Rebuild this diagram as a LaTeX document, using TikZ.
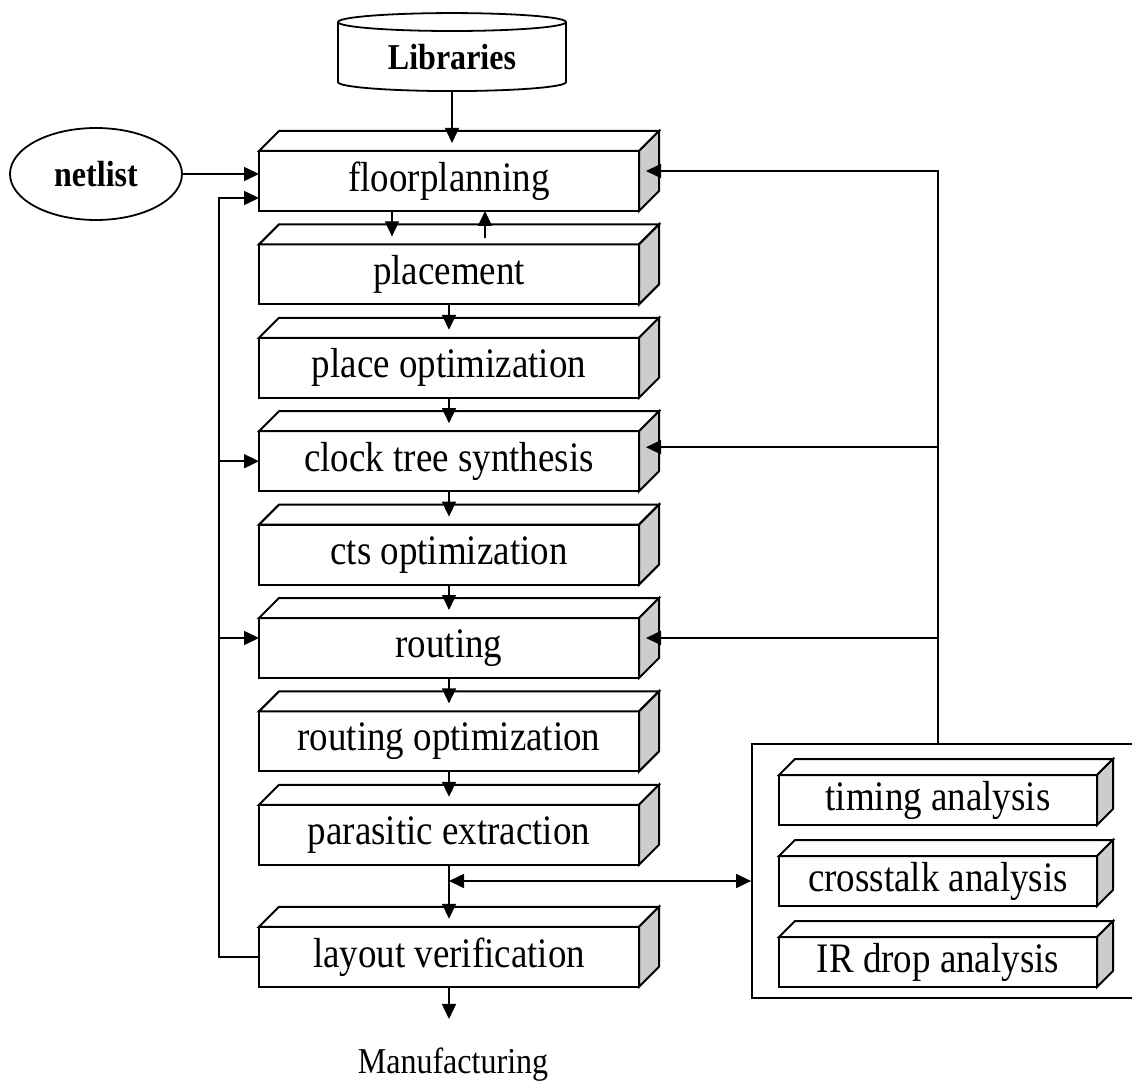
\documentclass[tikz,border=0pt]{standalone}
\usepackage{fontspec}
\setmainfont{Liberation Serif}[FakeStretch=0.88]
\usetikzlibrary{shapes.geometric, arrows.meta, positioning}

\definecolor{sidegray}{gray}{0.8}

\tikzset{
  stage/.style={draw, line width=1pt, fill=white, minimum width=190pt, minimum height=30pt,
    inner sep=0pt, outer sep=0pt, font=\fontsize{21}{23}\selectfont},
  check/.style={stage, minimum width=159pt, minimum height=25pt},
  source/.style={draw, line width=0.9pt, ellipse, minimum width=86pt, minimum height=46pt,
    inner sep=0pt, font=\fontsize{18.2}{20}\selectfont\bfseries},
  store/.style={draw, line width=0.9pt, cylinder, shape border rotate=90, aspect=0.14,
    minimum width=114pt, minimum height=39pt, inner sep=0pt, font=\fontsize{18.2}{20}\selectfont\bfseries},
  arr/.style={line width=0.8pt, -{Triangle[length=7.5pt,width=7pt]}},
  darr/.style={line width=0.8pt, {Triangle[length=7.5pt,width=7pt]}-{Triangle[length=7.5pt,width=7pt]}}
}

\begin{document}
\begin{tikzpicture}[node distance=16.7pt]
\useasboundingbox (0,0) rectangle (566pt,-540.5pt);

\node[store] (lib) at (226pt,-28.5pt) {Libraries};
\node[source] (nl) at (48pt,-87pt) {netlist};

% Design flow
\node[stage] (fp) at (224.5pt,-90.5pt) {floorplanning};
\node[stage, below=of fp] (pl) {placement};
\node[stage, below=of pl] (po) {place optimization};
\node[stage, below=of po] (cts) {clock tree synthesis};
\node[stage, below=of cts] (ctso) {cts optimization};
\node[stage, below=of ctso] (rt) {routing};
\node[stage, below=of rt] (rto) {routing optimization};
\node[stage, below=of rto] (pex) {parasitic extraction};
\node[stage, below=31pt of pex] (lv) {layout verification};
\node[anchor=base, inner sep=0pt, font=\fontsize{18.2}{20}\selectfont] (mf) at (226.5pt,-536.5pt) {Manufacturing};

% Analysis tools
\node[draw, line width=0.9pt, minimum width=224pt, minimum height=127pt] (chk) at (488pt,-435.5pt) {};
\node[check] (ta) at (469pt,-400pt) {timing analysis};
\node[check, below=15.5pt of ta] (xt) {crosstalk analysis};
\node[check, below=15.5pt of xt] (ir) {IR drop analysis};

% Box depth
\foreach \n/\d in {fp/10pt, pl/10pt, po/10pt, cts/10pt, ctso/10pt, rt/10pt, rto/10pt, pex/10pt, lv/10pt, ta/8pt, xt/8pt, ir/8pt} {
  \draw[line width=1pt, fill=white] (\n.north west) -- ++(\d,\d) -- ([shift={(\d,\d)}]\n.north east) -- (\n.north east) -- cycle;
  \draw[line width=1pt, fill=sidegray] (\n.north east) -- ++(\d,\d) -- ([shift={(\d,\d)}]\n.south east) -- (\n.south east) -- cycle;
}

\draw[arr] (lib.south) -- ([yshift=4pt]lib.south |- fp.north);
\draw[arr] (nl.east) -- (nl.east -| fp.west);
\draw[arr] ([xshift=-28.5pt]fp.south) -- ([xshift=-28.5pt,yshift=4pt]pl.north);
\draw[arr] ([xshift=18pt,yshift=3pt]pl.north) -- ([xshift=18pt]fp.south);
\foreach \a/\b in {pl/po, po/cts, cts/ctso, ctso/rt, rt/rto, rto/pex, pex/lv}
  \draw[arr] (\a.south) -- ([yshift=4pt]\b.north);
\draw[arr, shorten >=14pt] (lv.south) -- (lv.south |- mf.north);

% Feedback
\draw[arr] (lv.west) -- ++(-20pt,0) |- ([yshift=-8.5pt]fp.west);
\draw[arr] ([xshift=-20pt]cts.west) -- (cts.west);
\draw[arr] ([xshift=-20pt,yshift=5pt]rt.west) -- ([yshift=5pt]rt.west);

\draw[arr] (ta.north |- chk.north) |- ([shift={(3.5pt,5pt)}]fp.east);
\draw[arr] ([yshift=7pt]cts.east -| ta.north) -- ([shift={(3.5pt,7pt)}]cts.east);
\draw[arr] ([yshift=5pt]rt.east -| ta.north) -- ([shift={(3.5pt,5pt)}]rt.east);
\draw[darr] (xt.west -| pex.south) -- (xt.west -| chk.west);
\end{tikzpicture}
\end{document}
